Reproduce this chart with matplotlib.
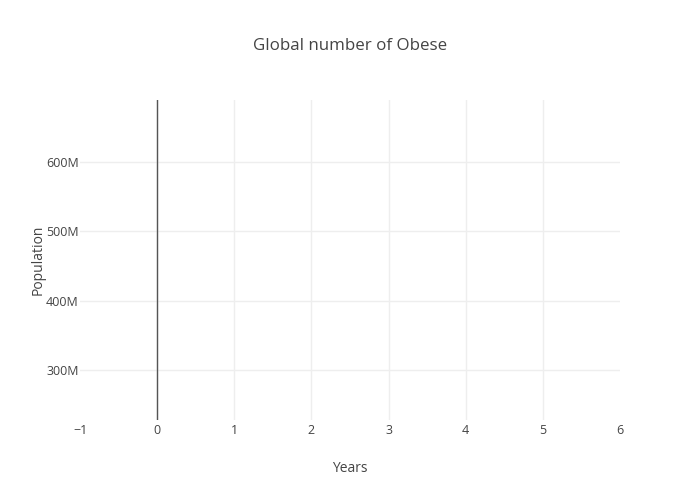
import matplotlib
matplotlib.use('Agg')
import matplotlib.pyplot as plt
from matplotlib.ticker import FuncFormatter

# no traces are visible in the chart, only the empty axes
years = []
population = []

x_ticks = [-1, 0, 1, 2, 3, 4, 5, 6]
y_ticks = [300e6, 400e6, 500e6, 600e6]
x_range = (-1, 6)
y_range = (228e6, 689e6)

plt.rcParams['font.family'] = ['Open Sans', 'DejaVu Sans']

fig = plt.figure(figsize=(7, 5), dpi=100, facecolor='white')
ax = fig.add_axes([80/700, 80/500, 540/700, 320/500])
ax.plot(years, population)

ax.set_xlim(*x_range)
ax.set_ylim(*y_range)
ax.set_xticks(x_ticks)
ax.set_yticks(y_ticks)
ax.set_xticklabels(['\u22121' if t < 0 else str(t) for t in x_ticks])
ax.yaxis.set_major_formatter(FuncFormatter(lambda v, p: f"{v/1e6:.0f}M"))

ax.grid(True, color='#eeeeee', linewidth=1)
ax.set_axisbelow(True)
# plotly leaves no grid line on the range edges
for t, tick in zip(x_ticks, ax.xaxis.get_major_ticks()):
    if t in x_range:
        tick.gridline.set_visible(False)
ax.axvline(0, color='#555555', linewidth=1, zorder=3)
for s in ax.spines.values():
    s.set_visible(False)
ax.tick_params(length=0, labelsize=9, colors='#444444')
ax.tick_params(axis='x', pad=3)
ax.tick_params(axis='y', pad=1)

ax.set_xlabel('Years', fontsize=10, color='#444444', labelpad=17)
ax.set_ylabel('Population', fontsize=10, color='#444444', labelpad=0)
fig.text(350/700, 1 - 46/500, 'Global number of Obese', ha='center', va='center',
         fontsize=12.2, color='#444444')

fig.savefig('out.png', dpi=100, facecolor='white')
